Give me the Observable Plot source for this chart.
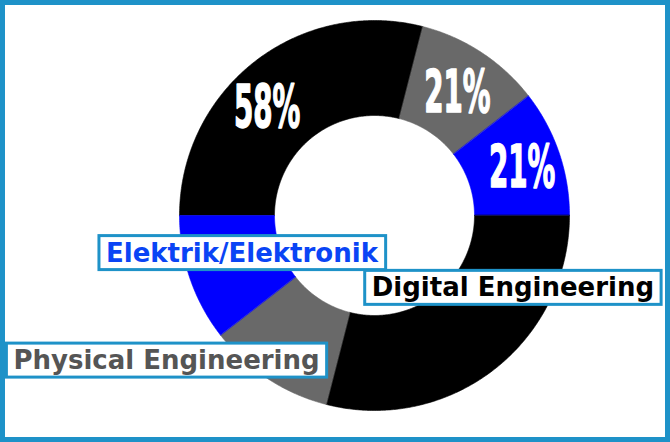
<!DOCTYPE html>
<html><head><meta charset="utf-8">
<script src="https://cdn.jsdelivr.net/npm/d3@7"></script>
<script src="https://cdn.jsdelivr.net/npm/@observablehq/plot@0.6"></script>
<style>
html,body{margin:0;padding:0;background:#fff;}
#chart{width:670px;height:442px;position:relative;overflow:hidden;}
#chart svg{display:block;}
#frame{position:absolute;left:0;top:0;width:670px;height:442px;box-sizing:border-box;border:5px solid #1e92c8;pointer-events:none;}
</style></head><body>
<div id="chart"><div id="frame"></div></div>
<script>
// ---- data ----
const categories = ["Digital Engineering", "Physical Engineering", "Elektrik/Elektronik"];
const shares = [58, 21, 21];
const percentLabels = ["58%", "21%", "21%"];
const sliceColors = ["#000000", "#696969", "#0000ff"];
const labelColors = ["#000000", "#555555", "#0a44f5"];

// ---- layout (not data) ----
const innerRatio = 100 / 195;
const pctOffsets = [[-17, 9], [2, 1], [8, 0]];
const catOffsets = [[48, -44], [-127, 22], [7, -10]];

// Two half rings: top half from 9 o'clock clockwise to 3 o'clock,
// bottom half from 3 o'clock clockwise to 9 o'clock. Same sequence in each.
const rows = [];
const centroids = [];
const total = d3.sum(shares);
[180, 0].forEach((startDeg, h) => {
  let cum = 0;
  shares.forEach((s, i) => {
    const a0 = startDeg - 180 * cum / total;
    cum += s;
    const a1 = startDeg - 180 * cum / total;
    const id = h + "-" + i;
    const n = Math.max(2, Math.ceil(Math.abs(a0 - a1) / 0.5));
    const rad = a => a * Math.PI / 180;
    for (let k = 0; k <= n; k++) {
      const a = rad(a0 + (a1 - a0) * k / n);
      rows.push({id, color: sliceColors[i], x: Math.cos(a), y: Math.sin(a)});
    }
    for (let k = n; k >= 0; k--) {
      const a = rad(a0 + (a1 - a0) * k / n);
      rows.push({id, color: sliceColors[i], x: innerRatio * Math.cos(a), y: innerRatio * Math.sin(a)});
    }
    const mid = rad((a0 + a1) / 2), rm = (1 + innerRatio) / 2;
    centroids.push({half: h, i, x: rm * Math.cos(mid), y: rm * Math.sin(mid)});
  });
});

const marks = [
  Plot.line(rows, {x: "x", y: "y", z: "id", fill: "color", stroke: "color", strokeWidth: 0.6, curve: "linear-closed"})
];
centroids.filter(c => c.half === 0).forEach(c => {
  marks.push(Plot.text([c], {
    x: "x", y: "y", text: () => percentLabels[c.i], fill: "white",
    stroke: "white", strokeWidth: 1.1,
    fontFamily: "DejaVu Sans Condensed", fontWeight: "bold", fontSize: 44,
    dx: pctOffsets[c.i][0], dy: pctOffsets[c.i][1]
  }));
});
centroids.filter(c => c.half === 1).forEach(c => {
  marks.push(Plot.text([c], {
    x: "x", y: "y", text: () => categories[c.i], fill: labelColors[c.i],
    fontFamily: "DejaVu Sans", fontWeight: "bold", fontSize: 26,
    dx: catOffsets[c.i][0], dy: catOffsets[c.i][1]
  }));
});

const svg = Plot.plot({
  width: 670, height: 442,
  marginLeft: 179, marginRight: 101, marginTop: 20, marginBottom: 32,
  x: {domain: [-1, 1], axis: null},
  y: {domain: [-1, 1], axis: null},
  color: {type: "identity"},
  style: {background: "white"},
  marks
});
const chart = document.getElementById("chart");
chart.insertBefore(svg, chart.firstChild);

function localize(el, extra) {
  const t = el.getAttribute("transform") || "";
  let tx = 0, ty = 0;
  for (const [name, set] of [["x", v => tx = v], ["y", v => ty = v]]) {
    const v = el.getAttribute(name);
    if (v != null && !/em$/.test(v) && !isNaN(+v)) { set(+v); el.removeAttribute(name); }
  }
  el.setAttribute("transform", `${t} translate(${tx},${ty}) ${extra}`);
}
svg.querySelectorAll("text").forEach(el => {
  const s = el.textContent;
  if (percentLabels.includes(s)) {
    localize(el, "scale(0.70,1.34)");
  } else if (categories.includes(s)) {
    localize(el, "");
    const bb = el.getBBox();
    const r = document.createElementNS("http://www.w3.org/2000/svg", "rect");
    r.setAttribute("x", bb.x - 7);
    r.setAttribute("y", bb.y - 2);
    r.setAttribute("width", bb.width + 14);
    r.setAttribute("height", bb.height + 4);
    r.setAttribute("fill", "white");
    r.setAttribute("stroke", "#1e92c8");
    r.setAttribute("stroke-width", 3);
    r.setAttribute("transform", el.getAttribute("transform"));
    el.parentNode.insertBefore(r, el);
  }
});
</script>
</body></html>
